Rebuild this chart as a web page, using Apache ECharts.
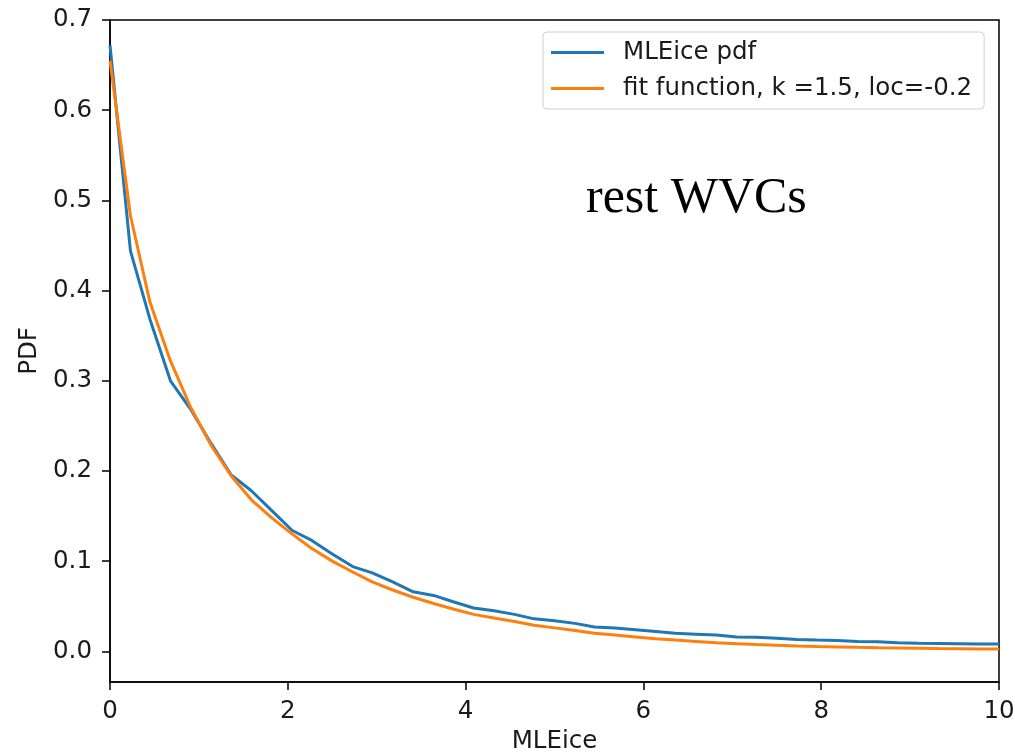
<!DOCTYPE html>
<html>
<head>
<meta charset="utf-8">
<script src="https://cdn.jsdelivr.net/npm/echarts@6/dist/echarts.min.js"></script>
<style>
  html, body { margin: 0; padding: 0; background: #fff; }
  #chart { width: 1015px; height: 756px; }
</style>
</head>
<body>
<div id="chart"></div>
<script>
// x positions of the curve samples (MLEice)
const xs = [0, 0.23, 0.45, 0.68, 0.91, 1.14, 1.36, 1.59, 1.82, 2.05, 2.27, 2.5, 2.73, 2.95, 3.18,
  3.41, 3.64, 3.86, 4.09, 4.32, 4.55, 4.77, 5.0, 5.23, 5.45, 5.68, 5.91, 6.14, 6.36, 6.59,
  6.82, 7.05, 7.27, 7.5, 7.73, 7.95, 8.18, 8.41, 8.64, 8.86, 9.09, 9.32, 9.55, 9.77, 10.0];
// MLEice pdf (blue)
const pdfValues = [0.672, 0.444, 0.368, 0.300, 0.268, 0.230, 0.196, 0.178, 0.156, 0.134, 0.123, 0.108, 0.094, 0.087, 0.077,
  0.066, 0.062, 0.055, 0.048, 0.045, 0.041, 0.036, 0.034, 0.031, 0.027, 0.026, 0.024, 0.022, 0.020, 0.019,
  0.018, 0.016, 0.0155, 0.0145, 0.013, 0.0125, 0.012, 0.011, 0.0105, 0.0095, 0.009, 0.0088, 0.0085, 0.0082, 0.008];
// fit function (orange)
const fitValues = [0.655, 0.483, 0.387, 0.322, 0.270, 0.228, 0.195, 0.168, 0.148, 0.130, 0.114, 0.100, 0.088, 0.077, 0.068,
  0.060, 0.053, 0.047, 0.041, 0.037, 0.033, 0.029, 0.026, 0.023, 0.020, 0.018, 0.016, 0.014, 0.0125, 0.011,
  0.0095, 0.0085, 0.0075, 0.0067, 0.006, 0.0054, 0.0049, 0.0044, 0.004, 0.0037, 0.0034, 0.0031, 0.0029, 0.0027, 0.0025];
const yTicks = [0, 0.1, 0.2, 0.3, 0.4, 0.5, 0.6, 0.7];
const seriesNames = ["MLEice pdf", "fit function, k =1.5, loc=-0.2"];

const font = "DejaVu Sans";
const fontSize = 24.5;
const myChart = echarts.init(document.getElementById("chart"));

const toPairs = (vals) => xs.map((x, i) => [x, vals[i]]);

const options = {
  animation: false,
  color: ["#1f77b4", "#ff7f0e"],
  grid: {
    left: 110,
    right: 16,
    top: 20,
    bottom: 74,
    containLabel: false,
    outerBoundsMode: "none",
    show: true,
    borderColor: "#000",
    borderWidth: 1.5,
    backgroundColor: "transparent",
  },
  legend: {
    orient: "vertical",
    left: 543,
    top: 32,
    icon: "rect",
    itemWidth: 53,
    itemHeight: 3,
    itemGap: 9,
    padding: [7, 12, 7, 8],
    borderColor: "#d0d0d0",
    borderWidth: 1,
    borderRadius: 4,
    backgroundColor: "#fff",
    textStyle: {
      fontFamily: font,
      fontSize: fontSize,
      color: "#1a1a1a",
      lineHeight: 27,
      padding: [0, 0, 0, 14],
    },
    data: seriesNames,
  },
  xAxis: {
    type: "value",
    min: 0,
    max: 10,
    interval: 2,
    name: "MLEice",
    nameLocation: "middle",
    nameGap: 47,
    nameTextStyle: { fontFamily: font, fontSize: fontSize, color: "#1a1a1a" },
    axisLine: { onZero: false, lineStyle: { color: "#000", width: 1.5 } },
    axisTick: { show: true, length: 8, lineStyle: { color: "#000", width: 1.5 } },
    axisLabel: { fontFamily: font, fontSize: fontSize, color: "#1a1a1a", margin: 17 },
    splitLine: { show: false },
  },
  yAxis: {
    type: "value",
    min: -0.034,
    max: 0.7,
    name: "PDF",
    nameLocation: "middle",
    nameGap: 65,
    nameRotate: 90,
    nameTextStyle: { fontFamily: font, fontSize: fontSize, color: "#1a1a1a" },
    axisLine: { onZero: false, lineStyle: { color: "#000", width: 1.5 } },
    axisTick: {
      show: true,
      length: 8,
      customValues: yTicks,
      lineStyle: { color: "#000", width: 1.5 },
    },
    axisLabel: {
      fontFamily: font,
      fontSize: fontSize,
      color: "#1a1a1a",
      margin: 18,
      customValues: yTicks,
      formatter: (v) => v.toFixed(1),
    },
    splitLine: { show: false },
  },
  graphic: [
    {
      type: "text",
      x: 586,
      y: 199,
      style: {
        text: "rest WVCs",
        font: '50px "Liberation Serif"',
        fill: "#000",
        verticalAlign: "middle",
      },
    },
  ],
  series: [
    {
      name: seriesNames[0],
      type: "line",
      symbol: "none",
      z: 3,
      lineStyle: { width: 3 },
      data: toPairs(pdfValues),
    },
    {
      name: seriesNames[1],
      type: "line",
      symbol: "none",
      z: 4,
      lineStyle: { width: 3 },
      data: toPairs(fitValues),
    },
  ],
};
options && myChart.setOption(options);
</script>
</body>
</html>
